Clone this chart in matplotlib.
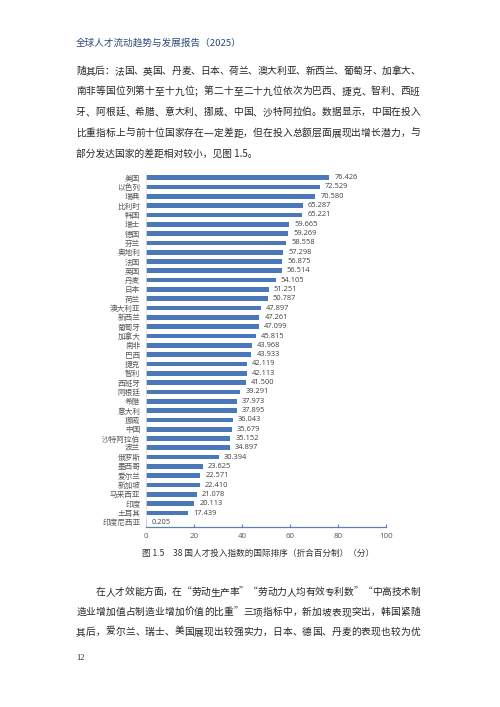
import matplotlib
matplotlib.use('Agg')
import matplotlib.pyplot as plt

plt.rcParams['font.family'] = ['Noto Sans CJK SC', 'DejaVu Sans']

# ---------------- data ----------------
countries = ['美国', '以色列', '瑞典', '比利时', '韩国', '瑞士', '德国', '芬兰', '奥地利',
             '法国', '英国', '丹麦', '日本', '荷兰', '澳大利亚', '新西兰', '葡萄牙', '加拿大',
             '南非', '巴西', '捷克', '智利', '西班牙', '阿根廷', '希腊', '意大利', '挪威',
             '中国', '沙特阿拉伯', '波兰', '俄罗斯', '墨西哥', '爱尔兰', '新加坡', '马来西亚',
             '印度', '土耳其', '印度尼西亚']
values = [76.426, 72.529, 70.580, 65.287, 65.221, 59.665, 59.269, 58.558, 57.298,
          56.875, 56.514, 54.105, 51.251, 50.787, 47.897, 47.261, 47.099, 45.815,
          43.968, 43.933, 42.119, 42.113, 41.500, 39.291, 37.973, 37.895, 36.043,
          35.679, 35.152, 34.897, 30.394, 23.625, 22.571, 22.410, 21.078,
          20.113, 17.439, 0.205]
xticks = [0, 20, 40, 60, 80, 100]

header = '全球人才流动趋势与发展报告（2025）'
para1 = ['随其后：法国、英国、丹麦、日本、荷兰、澳大利亚、新西兰、葡萄牙、加拿大、',
         '南非等国位列第十至十九位；第二十至二十九位依次为巴西、捷克、智利、西班',
         '牙、阿根廷、希腊、意大利、挪威、中国、沙特阿拉伯。数据显示，中国在投入',
         '比重指标上与前十位国家存在一定差距，但在投入总额层面展现出增长潜力，与']
para1_last = '部分发达国家的差距相对较小，见图 1.5。'
caption = '图 1.5　38 国人才投入指数的国际排序（折合百分制）（分）'
para2 = ['在人才效能方面，在“劳动生产率”“劳动力人均有效专利数”“中高技术制',
         '造业增加值占制造业增加价值的比重”三项指标中，新加坡表现突出，韩国紧随',
         '其后，爱尔兰、瑞士、美国展现出较强实力，日本、德国、丹麦的表现也较为优']
page_no = '12'

# ---------------- page ----------------
W, H = 500, 707
fig = plt.figure(figsize=(5, 7.07), dpi=100)
fig.patch.set_facecolor('white')


def fx(px):
    return px / W


def fy(py):
    return 1 - py / H


TEXT = '#262626'
FS = 7.0


def justified(s, ypx, x0, x1, fs=FS, color=TEXT):
    n = len(s)
    pitch = (x1 - x0) / n
    for i, ch in enumerate(s):
        fig.text(fx(x0 + (i + 0.5) * pitch), fy(ypx), ch, ha='center', va='center',
                 fontsize=fs, color=color)


fig.text(fx(76), fy(43.5), header, ha='left', va='center', fontsize=6.9, color='#2e4d7b')

for k, line in enumerate(para1):
    justified(line, 70.7 + k * 20.7, 76, 420)
fig.text(fx(76), fy(153.5), para1_last, ha='left', va='center', fontsize=FS, color=TEXT)

# ---------------- chart ----------------
ax_left, ax_right = 146.3, 385.7
ax_top, ax_bottom = 173.0, 527.0
ax = fig.add_axes([fx(ax_left), fy(ax_bottom), fx(ax_right - ax_left),
                   (ax_bottom - ax_top) / H])
pos = list(range(len(countries)))
ax.barh(pos, values, height=0.5, color='#4a78b8')
ax.set_ylim(len(countries) - 0.5, -0.5)
ax.set_xlim(xticks[0], xticks[-1])
ax.set_xticks(xticks)
ax.set_yticks(pos)
ax.set_yticklabels(countries)
for s in ('top', 'right'):
    ax.spines[s].set_visible(False)
ax.spines['left'].set_color('#d9dee6')
ax.spines['left'].set_linewidth(0.6)
ax.spines['bottom'].set_color('#5b7fb0')
ax.spines['bottom'].set_linewidth(0.9)
ax.tick_params(axis='y', length=0, pad=4.3, labelsize=5.5, labelcolor='#595959')
ax.tick_params(axis='x', direction='in', length=2, width=0.8, color='#5b7fb0',
               labelsize=5.8, labelcolor='#595959', pad=4)
for lab in ax.get_xticklabels():
    lab.set_family(['Open Sans', 'DejaVu Sans'])
for i, v in enumerate(values):
    ax.annotate(f'{v:.3f}', xy=(v, i), xytext=(3.6, 0), textcoords='offset points',
                va='center', ha='left', fontsize=5.4, color='#404040',
                family=['Open Sans', 'DejaVu Sans'])

fig.text(fx(258), fy(553), caption, ha='center', va='center', fontsize=6.2, color='#333333')

# ---------------- bottom paragraph ----------------
justified(para2[0], 592.3, 96, 420)
justified(para2[1], 612.3, 76, 420)
justified(para2[2], 631.7, 76, 420)
fig.text(fx(76), fy(658), page_no, ha='left', va='center', fontsize=6,
         color=TEXT, family=['Liberation Serif', 'DejaVu Serif'])

fig.savefig('out.png', dpi=100, facecolor='white')
